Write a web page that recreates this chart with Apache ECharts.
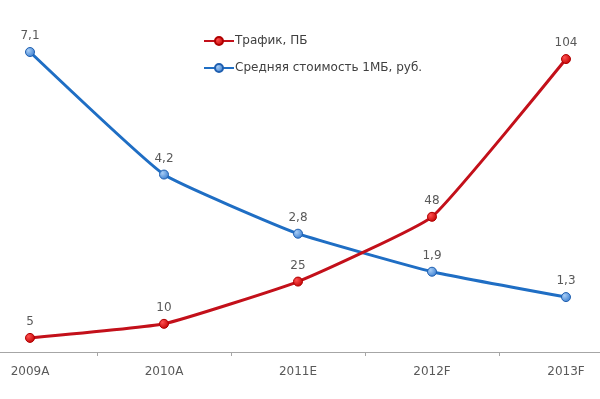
<!DOCTYPE html>
<html><head><meta charset="utf-8">
<script src="https://cdn.jsdelivr.net/npm/echarts@6/dist/echarts.min.js"></script>
<style>html,body{margin:0;padding:0;background:#fff}#c{width:600px;height:399px}</style>
</head><body><div id="c"></div>
<script>
var categories = ['2009A','2010A','2011E','2012F','2013F'];
var trafficName = 'Трафик, ПБ';
var trafficValues = [5, 10, 25, 48, 104];
var costName = 'Средняя стоимость 1МБ, руб.';
var costValues = [7.1, 4.2, 2.8, 1.9, 1.3];

var font = 'DejaVu Sans';
var chart = echarts.init(document.getElementById('c'), null, {renderer:'canvas'});
function fmt(p){ return String(p.value).replace('.', ','); }
chart.setOption({
  animation: false,
  backgroundColor: '#fff',
  textStyle: {fontFamily: font},
  legend: {
    orient: 'vertical', left: 198, top: 30, itemGap: 15,
    itemWidth: 30, itemHeight: 10,
    textStyle: {fontFamily: font, fontSize: 12, color: '#404040', padding: [0,0,0,-4]},
    data: [trafficName, costName]
  },
  grid: {left: -37, right: -33, top: 14, bottom: 47, outerBoundsMode: 'none', containLabel: false},
  xAxis: {
    type: 'category', data: categories, boundaryGap: true,
    axisLine: {lineStyle: {color: '#a6a6a6', width: 1}},
    axisTick: {show: true, length: 4, lineStyle: {color: '#a6a6a6'}},
    axisLabel: {color: '#595959', fontFamily: font, fontSize: 12, margin: 14}
  },
  yAxis: [
    {type: 'value', min: 0, max: 120, show: false, splitLine: {show: false}},
    {type: 'value', min: 0, max: 8, show: false, splitLine: {show: false}}
  ],
  series: [
    {
      name: trafficName, type: 'line', yAxisIndex: 0, data: trafficValues,
      symbol: 'circle', symbolSize: 9, smooth: 0.12,
      lineStyle: {color: '#c3101a', width: 3},
      itemStyle: {color: {type:'radial', x:0.35, y:0.35, r:0.7, colorStops:[{offset:0,color:'#ff5050'},{offset:1,color:'#c00000'}]}, borderColor: '#b00000', borderWidth: 1},
      label: {show: true, position: 'top', distance: 5, color: '#595959', fontFamily: font, fontSize: 12, formatter: fmt},
      z: 3
    },
    {
      name: costName, type: 'line', yAxisIndex: 1, data: costValues,
      symbol: 'circle', symbolSize: 9, smooth: 0.12,
      lineStyle: {color: '#1f6ec4', width: 3},
      itemStyle: {color: {type:'radial', x:0.35, y:0.35, r:0.7, colorStops:[{offset:0,color:'#a8cdf5'},{offset:1,color:'#3a7ed0'}]}, borderColor: '#1f5fb0', borderWidth: 1},
      label: {show: true, position: 'top', distance: 5, color: '#595959', fontFamily: font, fontSize: 12, formatter: fmt},
      z: 2
    }
  ]
});
</script></body></html>
